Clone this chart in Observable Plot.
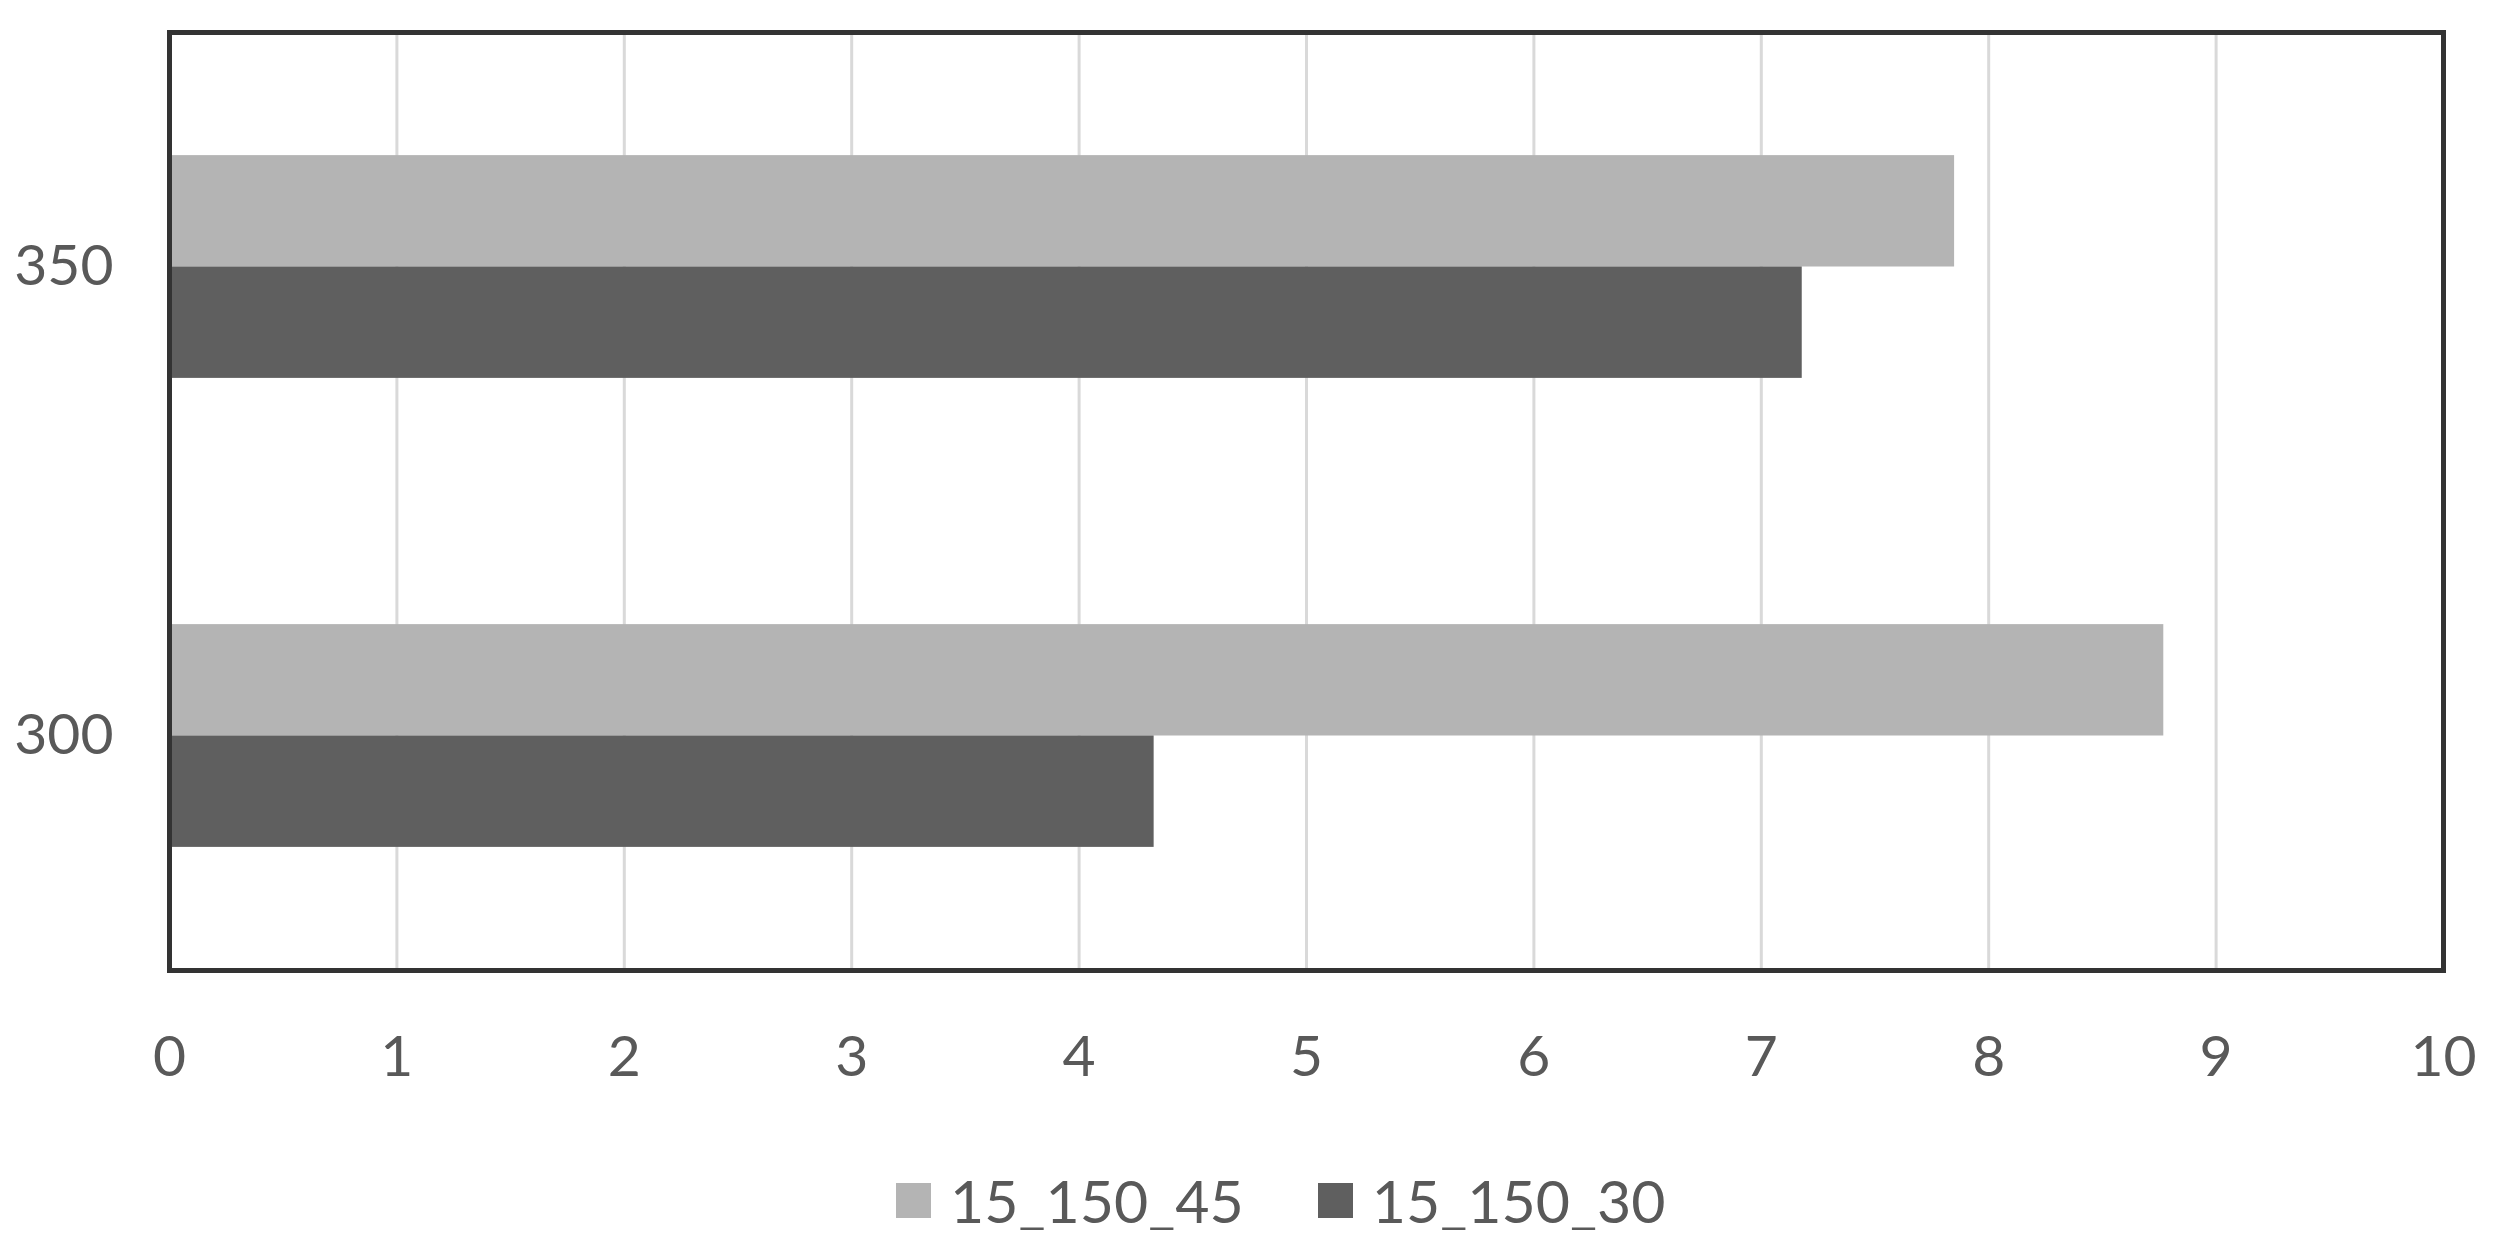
<!DOCTYPE html>
<html>
<head>
<meta charset="utf-8">
<script src="https://cdn.jsdelivr.net/npm/d3@7"></script>
<script src="https://cdn.jsdelivr.net/npm/@observablehq/plot@0.6"></script>
<style>
  html, body { margin: 0; padding: 0; background: #fff; }
  #legend { display: flex; align-items: center; height: 60px; padding-left: 896px;
            font-family: Lato, "Open Sans", sans-serif; font-size: 59px; color: #595959; }
  #legend .sw { width: 35px; height: 35px; margin-right: 19px; }
  #legend .item { display: flex; align-items: center; margin-right: 74px; }
</style>
</head>
<body>
<div id="chart"></div>
<div id="legend"></div>
<script>
const categories = ["350", "300"];
const seriesNames = ["15_150_45", "15_150_30"];
const seriesColors = ["#b4b4b4", "#5f5f5f"];
const values45 = [7.85, 8.77];
const values30 = [7.18, 4.33];
const xTicks = [0, 1, 2, 3, 4, 5, 6, 7, 8, 9, 10];

const data45 = categories.map((c, i) => ({category: c, value: values45[i], series: seriesNames[0]}));
const data30 = categories.map((c, i) => ({category: c, value: values30[i], series: seriesNames[1]}));

const W = 2495, H = 1170, mT = 32, mB = 200, mL = 169, mR = 52;
const pInner = 0.525, pOuter = 0.2625;
const step = (H - mT - mB) / (categories.length - pInner + 2 * pOuter);
const half = step * (1 - pInner) / 2;

const chart = Plot.plot({
  width: W, height: H,
  marginTop: mT, marginBottom: mB, marginLeft: mL, marginRight: mR,
  style: {fontFamily: "Lato, 'Open Sans', sans-serif", fontSize: "57px", color: "#595959", background: "#fff"},
  x: {domain: [0, 10], label: null},
  y: {type: "band", domain: categories, paddingInner: pInner, paddingOuter: pOuter, round: false, label: null},
  marks: [
    Plot.ruleX(xTicks, {stroke: "#d9d9d9", strokeWidth: 3}),
    Plot.barX(data45, {x: "value", y: "category", fill: seriesColors[0], insetBottom: half}),
    Plot.barX(data30, {x: "value", y: "category", fill: seriesColors[1], insetTop: half}),
    Plot.frame({stroke: "#333", strokeWidth: 5}),
    Plot.axisX({ticks: xTicks, tickSize: 0, tickPadding: 65, fontSize: 57, tickFormat: d => String(d)}),
    Plot.axisY({tickSize: 0, tickPadding: 56, fontSize: 57})
  ]
});
document.getElementById("chart").appendChild(chart);

const legend = document.getElementById("legend");
seriesNames.forEach((name, i) => {
  const item = document.createElement("div");
  item.className = "item";
  const sw = document.createElement("div");
  sw.className = "sw";
  sw.style.background = seriesColors[i];
  const label = document.createElement("span");
  label.textContent = name;
  item.appendChild(sw);
  item.appendChild(label);
  legend.appendChild(item);
});
</script>
</body>
</html>
